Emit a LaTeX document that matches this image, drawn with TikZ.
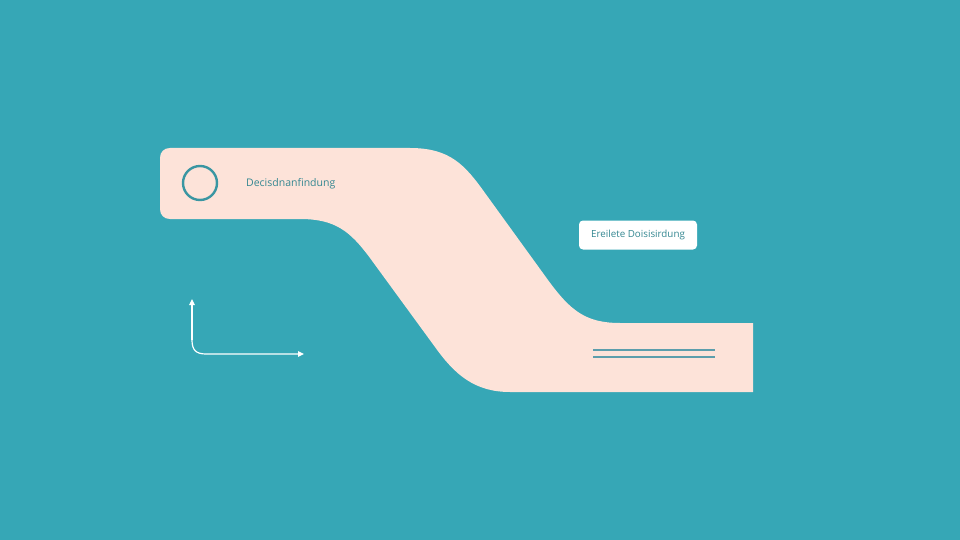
\documentclass[tikz,border=0pt]{standalone}
\usepackage{fontspec}
\setmainfont{Open Sans}
\usetikzlibrary{arrows.meta}
\definecolor{bgteal}{RGB}{54,167,182}
\definecolor{peach}{RGB}{253,227,217}
\definecolor{ink}{RGB}{58,150,162}
\definecolor{textink}{RGB}{52,135,145}
\definecolor{lineteal}{RGB}{92,158,172}
\tikzset{
  band/.style={fill=peach,draw=none},
  ringnode/.style={circle,draw=ink,line width=2.4pt,minimum size=34pt,inner sep=0pt},
  labeltext/.style={text=textink,font=\fontsize{10.5}{12}\selectfont,inner sep=0pt,anchor=west},
  whitebox/.style={fill=white,rounded corners=4pt,minimum width=118pt,minimum height=29pt,inner sep=0pt,text=textink,font=\fontsize{9.8}{11}\selectfont},
  axisarrow/.style={draw=white,line width=1.2pt,-{Triangle[length=6pt,width=5.5pt]}},
  doubleline/.style={draw=lineteal,line width=2pt}
}
\begin{document}
\begin{tikzpicture}[x=1pt,y=-1pt]
\useasboundingbox (0,0) rectangle (960,540);
\fill[bgteal] (0,0) rectangle (960,540);
% S-shaped band
\path[band]
  (170,148) -- (410,148)
  .. controls (450,148) and (465,165) .. (485,193)
  -- (548,280)
  .. controls (570,310) and (585,323) .. (620,323)
  -- (753,323) -- (753,392) -- (510,392)
  .. controls (475,392) and (455,375) .. (435,347)
  -- (370,258)
  .. controls (350,231) and (335,219) .. (300,219)
  -- (170,219)
  .. controls (164,219) and (160,215) .. (160,209)
  -- (160,158)
  .. controls (160,152) and (164,148) .. (170,148) -- cycle;
% ring and label
\node[ringnode] (ring) at (200,183) {};
\node[labeltext] (lblA) at (246,184) {Decisdnanfindung};
% white box
\node[whitebox] (boxB) at (638,235) {Ereilete Doisisirdung};
% axis arrows
\coordinate (corner) at (192,354);
\coordinate (upEnd) at (192,299);
\coordinate (rightEnd) at (304,354);
\draw[axisarrow] (corner) ++(0,-14) -- (upEnd);
\draw[axisarrow] (upEnd) ++(0,41) .. controls (192,350) and (196,354) .. (206,354) -- (rightEnd);
% double lines
\coordinate (dA1) at (593,350);
\coordinate (dA2) at (715,350);
\coordinate (dB1) at (593,357);
\coordinate (dB2) at (715,357);
\draw[doubleline] (dA1) -- (dA2);
\draw[doubleline] (dB1) -- (dB2);
\end{tikzpicture}
\end{document}
